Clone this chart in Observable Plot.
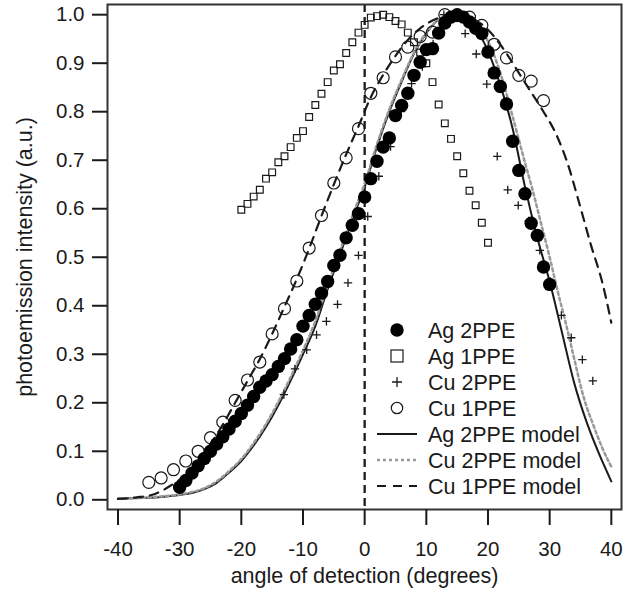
<!DOCTYPE html>
<html><head><meta charset="utf-8">
<script src="https://cdn.jsdelivr.net/npm/d3@7"></script>
<script src="https://cdn.jsdelivr.net/npm/@observablehq/plot@0.6"></script>
<style>
body{margin:0;background:#fff;}
#wrap{position:relative;width:641px;height:591px;font-family:"Liberation Sans",Arial,Helvetica,sans-serif;}
#legend{position:absolute;left:0;top:0;pointer-events:none;}
</style></head><body><div id="wrap"></div>
<script>
// ---- data ----
const ag2X = [-30,-29,-28,-27,-26,-25,-24,-23,-22,-21,-20,-19,-18,-17,-16,-15,-14,-13,-12,-11,-10,-9,-8,-7,-6,-5,-4,-3,-2,-1,0,1,2,3,4,5,6,7,8,9,10,11,12,13,14,15,16,17,18,19,20,21,22,23,24,25,26,27,28,29,30];
const ag2Y = [0.026,0.040,0.055,0.070,0.085,0.100,0.115,0.130,0.146,0.162,0.178,0.195,0.213,0.232,0.245,0.258,0.275,0.291,0.311,0.330,0.358,0.380,0.403,0.426,0.450,0.483,0.504,0.540,0.566,0.590,0.624,0.662,0.698,0.727,0.746,0.792,0.813,0.838,0.875,0.902,0.928,0.930,0.962,0.983,0.995,1.000,0.995,0.985,0.972,0.961,0.923,0.880,0.852,0.816,0.739,0.679,0.631,0.570,0.545,0.480,0.444];

const ag1X = [-20,-19,-18,-17,-16,-15,-14,-13,-12,-11,-10,-9,-8,-7,-6,-5,-4,-3,-2,-1,0,1,2,3,4,5,6,7,8,9,10,11,12,13,14,15,16,17,18,19,20];
const ag1Y = [0.598,0.610,0.625,0.639,0.662,0.675,0.696,0.708,0.727,0.746,0.760,0.789,0.814,0.837,0.861,0.885,0.898,0.921,0.943,0.963,0.979,0.994,0.997,1.000,0.995,0.987,0.980,0.963,0.943,0.922,0.900,0.861,0.815,0.776,0.744,0.708,0.673,0.637,0.607,0.571,0.530];

const cu2X = [-13.1,-11.3,-9.4,-7.8,-6.2,-4.4,-2.7,-1.0,0.5,2.3,4.2,5.9,7.6,9.35,11.1,12.85,14.6,16.3,18.1,19.8,21.5,23.2,24.9,26.6,28.4,30.1,31.9,33.5,35.3,37.0];
const cu2Y = [0.217,0.270,0.309,0.340,0.368,0.403,0.447,0.504,0.584,0.667,0.728,0.800,0.858,0.893,0.940,1.000,0.995,0.961,0.919,0.857,0.708,0.639,0.607,0.575,0.514,0.450,0.380,0.334,0.289,0.245];

const cu1X = [-35,-33,-31,-29,-27,-25,-23,-21,-19,-17,-15,-13,-11,-9,-7,-5,-3,-1,1,3,5,7,9,11,13,15,17,19,21,23,25,27,29];
const cu1Y = [0.036,0.045,0.062,0.080,0.100,0.128,0.160,0.205,0.247,0.284,0.342,0.394,0.451,0.519,0.586,0.653,0.705,0.765,0.838,0.870,0.913,0.933,0.955,0.964,1.000,0.998,0.995,0.978,0.939,0.911,0.875,0.863,0.823];

const agModelX = [-40,-36,-33,-30,-28,-26,-24,-22,-20,-18,-16,-14,-12,-10,-8,-6,-4,-2,0,2,4,6,8,10,12,14,16,18,20,22,24,26,28,30,32,34,36,38,40];
const agModelY = [0.002,0.004,0.006,0.010,0.014,0.022,0.035,0.056,0.080,0.112,0.150,0.195,0.246,0.300,0.358,0.434,0.505,0.578,0.645,0.728,0.800,0.862,0.920,0.962,0.990,1.000,0.996,0.972,0.925,0.855,0.765,0.645,0.540,0.450,0.345,0.240,0.160,0.095,0.038];

const cu2ModelX = [-40,-36,-33,-30,-28,-26,-24,-22,-20,-18,-16,-14,-12,-10,-8,-6,-4,-2,0,2,4,6,8,10,12,14,16,18,20,22,24,26,27.2,28.6,30,31.3,32.7,33.9,35.5,37.2,38.5,40];
const cu2ModelY = [0.002,0.004,0.007,0.011,0.016,0.024,0.038,0.059,0.084,0.117,0.156,0.202,0.253,0.308,0.368,0.442,0.513,0.585,0.652,0.733,0.805,0.866,0.922,0.963,0.990,1.000,0.998,0.980,0.945,0.880,0.790,0.695,0.640,0.570,0.500,0.430,0.360,0.295,0.212,0.150,0.108,0.068];

const cu1ModelX = [-40,-37,-34,-31.5,-29,-27,-25,-23,-21,-19,-17,-15,-13,-11,-9,-7,-5,-3,-1,1,3,5,7,9,11,13,15,17,19,21,23,25,27,29,31,33,34.5,36.7,38.6,40];
const cu1ModelY = [0.002,0.005,0.012,0.029,0.052,0.080,0.115,0.155,0.200,0.245,0.290,0.342,0.398,0.455,0.518,0.585,0.650,0.712,0.770,0.830,0.876,0.915,0.948,0.972,0.988,0.997,1.000,0.995,0.980,0.955,0.920,0.880,0.840,0.800,0.755,0.690,0.625,0.525,0.445,0.365];

const xTicks = [-40,-30,-20,-10,0,10,20,30,40];
const yTicks = [0,0.1,0.2,0.3,0.4,0.5,0.6,0.7,0.8,0.9,1.0];
const legendLabels = ["Ag 2PPE","Ag 1PPE","Cu 2PPE","Cu 1PPE","Ag 2PPE model","Cu 2PPE model","Cu 1PPE model"];
const xLabel = "angle of detection (degrees)";
const yLabel = "photoemission intensity (a.u.)";

// ---- build ----
const rows = (xs, ys) => xs.map((x, i) => ({x, y: ys[i]}));
const FONT = "Liberation Sans, Arial, Helvetica, sans-serif";
const INK = "#1a1a1a";

const plot = Plot.plot({
  width: 641, height: 591,
  marginLeft: 107, marginRight: 20, marginTop: 4, marginBottom: 82,
  style: {fontFamily: FONT, fontSize: "20px", color: INK, background: "#fff"},
  x: {domain: [-41.7, 41.65]},
  y: {domain: [-0.02, 1.021]},
  marks: [
    Plot.ruleX([0], {stroke: INK, strokeWidth: 2.3, strokeDasharray: "8,5"}),
    Plot.line(rows(agModelX, agModelY), {x: "x", y: "y", curve: "monotone-x", stroke: INK, strokeWidth: 2}),
    Plot.line(rows(cu2ModelX, cu2ModelY), {x: "x", y: "y", curve: "monotone-x", stroke: "#999", strokeWidth: 2.5, strokeDasharray: "3,3"}),
    Plot.line(rows(cu1ModelX, cu1ModelY), {x: "x", y: "y", curve: "monotone-x", stroke: INK, strokeWidth: 2.2, strokeDasharray: "9,7"}),
    Plot.dot(rows(cu1X, cu1Y), {x: "x", y: "y", symbol: "circle", r: 6, stroke: INK, strokeWidth: 1.2, fill: "none"}),
    Plot.dot(rows(ag1X, ag1Y), {x: "x", y: "y", symbol: "square", r: 3.8, stroke: INK, strokeWidth: 1.2, fill: "none"}),
    Plot.dot(rows(cu2X, cu2Y), {x: "x", y: "y", symbol: "plus", r: 2.8, stroke: INK, strokeWidth: 1.3}),
    Plot.dot(rows(ag2X, ag2Y), {x: "x", y: "y", symbol: "circle", r: 6.7, fill: "#000", stroke: "none"}),
    Plot.frame({stroke: "#333", strokeWidth: 2}),
    Plot.axisX({ticks: xTicks, tickFormat: d => String(d), tickSize: 16, tickPadding: 16, strokeWidth: 2, stroke: INK, fill: INK, fontSize: 20.5, label: null}),
    Plot.axisX({ticks: [], tickSize: 0, fill: INK, fontSize: 21.5, label: xLabel, labelAnchor: "center", labelArrow: "none", labelOffset: 73}),
    Plot.axisY({ticks: yTicks, tickFormat: d => d.toFixed(1), tickSize: 15, tickPadding: 8, strokeWidth: 2, stroke: INK, fill: INK, fontSize: 20.5, label: null}),
    Plot.axisY({ticks: [], tickSize: 0, fill: INK, fontSize: 21.5, label: yLabel, labelAnchor: "center", labelArrow: "none", labelOffset: 91})
  ]
});

const wrap = document.getElementById("wrap");
wrap.appendChild(plot);

// ---- legend (inside the plot, lower right) ----
const lg = d3.create("svg").attr("id", "legend").attr("width", 641).attr("height", 591)
  .attr("font-family", FONT).attr("font-size", 21.5).attr("fill", INK);
const symX = 397, textX = 428, row0 = 330, rowStep = 26;
legendLabels.forEach((lab, i) => {
  const cy = row0 + i * rowStep;
  const g = lg.append("g");
  if (i === 0) g.append("circle").attr("cx", symX).attr("cy", cy).attr("r", 6.7).attr("fill", "#000");
  if (i === 1) g.append("rect").attr("x", symX - 6).attr("y", cy - 6).attr("width", 12).attr("height", 12).attr("fill", "none").attr("stroke", INK).attr("stroke-width", 1.2);
  if (i === 2) g.append("path").attr("d", `M${symX-5},${cy}H${symX+5}M${symX},${cy-5}V${cy+5}`).attr("stroke", INK).attr("stroke-width", 1.3);
  if (i === 3) g.append("circle").attr("cx", symX).attr("cy", cy).attr("r", 5.7).attr("fill", "none").attr("stroke", INK).attr("stroke-width", 1.2);
  if (i === 4) g.append("line").attr("x1", 377).attr("x2", 417).attr("y1", cy).attr("y2", cy).attr("stroke", INK).attr("stroke-width", 2);
  if (i === 5) g.append("line").attr("x1", 377).attr("x2", 417).attr("y1", cy).attr("y2", cy).attr("stroke", "#999").attr("stroke-width", 2.5).attr("stroke-dasharray", "3,3");
  if (i === 6) g.append("line").attr("x1", 377).attr("x2", 417).attr("y1", cy).attr("y2", cy).attr("stroke", INK).attr("stroke-width", 2.2).attr("stroke-dasharray", "9,7");
  g.append("text").attr("x", textX).attr("y", cy).attr("dy", "0.35em").text(lab);
});
wrap.appendChild(lg.node());
</script></body></html>
